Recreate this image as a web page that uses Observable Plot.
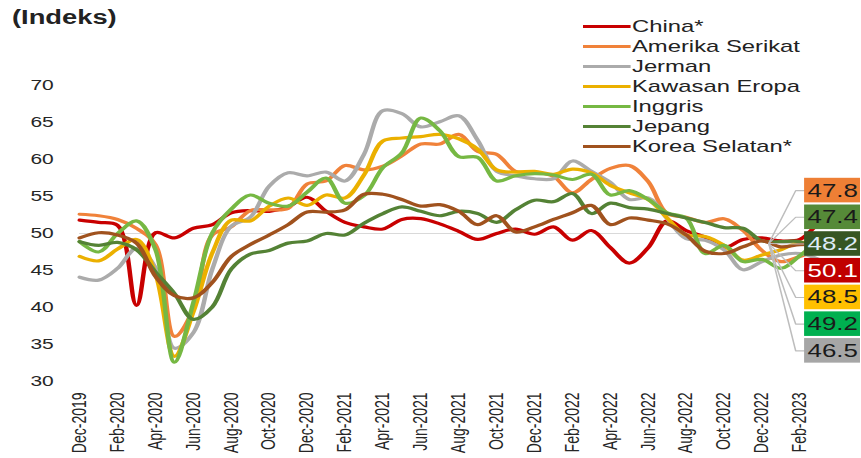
<!DOCTYPE html>
<html>
<head>
<meta charset="utf-8">
<script src="https://cdn.jsdelivr.net/npm/d3@7"></script>
<script src="https://cdn.jsdelivr.net/npm/@observablehq/plot@0.6"></script>
<style>
  html, body { margin: 0; padding: 0; background: #fff; overflow: hidden; }
  #wrap { position: relative; width: 861px; height: 458px; font-family: "Liberation Sans", Arial, sans-serif; color: #222; }
  #title { position: absolute; left: 12px; top: 4px; font-weight: bold; font-size: 19.5px; line-height: 26px; transform: scaleX(1.4); transform-origin: left top; white-space: nowrap; }
  #legend { position: absolute; left: 583px; top: 17px; transform: scaleX(1.4); transform-origin: left top; }
  .item { height: 20px; line-height: 20px; font-size: 17px; white-space: nowrap; }
  .sw { display: inline-block; width: 33.6px; height: 3px; vertical-align: middle; margin-right: 1.4px; position: relative; top: -1px; }
  #chart { position: absolute; left: 0; top: 0; }
</style>
</head>
<body>
<div id="wrap">
  <div id="chart"></div>
  <div id="title">(Indeks)</div>
  <div id="legend"></div>
</div>
<script>
// ---- data (monthly points, first point sits at the "Dec-2019" tick) ----
const tickLabels = ["Dec-2019","Feb-2020","Apr-2020","Jun-2020","Aug-2020","Oct-2020","Dec-2020","Feb-2021","Apr-2021","Jun-2021","Aug-2021","Oct-2021","Dec-2021","Feb-2022","Apr-2022","Jun-2022","Aug-2022","Oct-2022","Dec-2022","Feb-2023"];
const yTicks = [30, 35, 40, 45, 50, 55, 60, 65, 70];

const seriesNames = ["China*", "Amerika Serikat", "Jerman", "Kawasan Eropa", "Inggris", "Jepang", "Korea Selatan*"];
const seriesColors = ["#C80000", "#F0823A", "#ABABAB", "#EBB000", "#76B843", "#548235", "#A0521E"];

const china   = [51.8,51.5,51.1,40.3,50.1,49.4,50.7,51.2,52.8,53.1,53.0,53.6,54.9,53.0,51.5,50.9,50.6,51.9,52.0,51.3,50.3,49.2,50.0,50.6,49.9,50.9,49.1,50.4,48.1,46.0,48.1,51.7,50.4,49.5,48.1,49.2,49.4,49.0,49.2,51.6];
const amerika = [52.6,52.4,51.9,50.7,48.5,36.1,39.8,49.8,50.9,53.1,53.2,53.4,56.7,57.1,59.2,58.6,59.1,60.5,62.1,62.1,63.4,61.1,60.7,58.4,58.3,57.7,55.5,57.3,58.8,59.2,57.0,52.7,52.2,51.5,52.0,50.4,47.7,46.2,46.9,47.8];
const jerman  = [44.1,43.7,45.3,48.0,45.4,34.5,36.6,45.2,51.0,52.2,56.4,58.2,57.8,58.3,57.1,60.7,66.6,66.2,64.4,65.1,65.9,62.6,58.4,57.8,57.4,57.4,59.8,58.4,56.9,54.6,54.8,52.0,49.3,49.1,47.8,45.1,46.2,47.1,47.3,46.5];
const eropa   = [46.9,46.3,47.9,49.2,44.5,33.4,39.4,47.4,51.8,51.7,53.7,54.8,53.8,55.2,54.8,57.9,62.5,62.9,63.1,63.4,62.8,61.4,58.6,58.3,58.4,58.0,58.7,58.2,56.5,55.5,54.6,52.1,49.8,49.6,48.4,46.4,47.1,47.8,48.8,48.5];
const inggris = [48.9,47.5,50.0,51.7,47.8,32.6,40.7,50.1,53.3,55.2,54.1,53.7,55.6,57.5,54.1,55.1,58.9,60.9,65.6,63.9,60.4,60.3,57.1,57.8,58.1,57.9,57.3,58.0,55.2,55.8,54.6,52.8,52.1,47.3,48.4,46.2,46.5,45.3,47.0,49.2];
const jepang  = [48.9,48.4,48.8,47.8,44.8,41.9,38.4,40.1,45.2,47.2,47.7,48.7,49.0,50.0,49.8,51.4,52.7,53.6,53.0,52.4,53.0,52.7,51.5,53.2,54.5,54.3,55.4,52.7,54.1,53.5,53.3,52.7,52.1,51.5,50.8,50.7,49.0,48.9,48.9,47.4];
const korea   = [49.4,50.1,49.8,48.7,44.2,41.6,41.3,43.4,46.9,48.5,49.8,51.2,52.9,52.9,53.2,55.3,55.3,54.6,53.7,53.9,53.0,51.2,52.4,50.2,50.9,51.9,52.8,53.8,51.2,52.1,51.8,51.3,49.8,47.6,47.3,48.2,49.0,48.2,48.5,48.5];

const boxLabels     = ["47.8", "47.4", "48.2", "50.1", "48.5", "49.2", "46.5"];
const boxFills      = ["#EE7F35", "#568A38", "#375623", "#C00000", "#FFC000", "#00B050", "#A6A6A6"];
const boxTextColors = ["#1a1a1a", "#1a1a1a", "#DDEBF7", "#FFFFFF", "#1a1a1a", "#1a1a1a", "#1a1a1a"];

// ---- tables built from the arrays ----
const seriesValues = [china, amerika, jerman, eropa, inggris, jepang, korea];
const rows = seriesNames.flatMap((name, k) => seriesValues[k].map((v, i) => ({name, i, v})));
const tickIdx = tickLabels.map((_, j) => j * 2);

// layout of the right-hand value boxes (in scale units)
const boxX1 = 38.26, boxX2 = 41.21, slotTop = 55.8, slotStep = 3.61, boxHalf = 1.66;
const elbowX = 37.78, originX = 36.36, originY = 48.65;
const boxes = boxLabels.map((label, k) => ({
  label, fill: boxFills[k], color: boxTextColors[k],
  yc: slotTop - k * slotStep
}));
const leaders = boxes.flatMap((b, k) => [
  {k, x: originX, y: originY},
  {k, x: elbowX, y: b.yc},
  {k, x: boxX1, y: b.yc}
]);

const SX = 1.4;
const W = 861 / SX;

const svg = Plot.plot({
  width: W,
  height: 458,
  marginLeft: 79 / SX,
  marginRight: W - 860 / SX,
  marginTop: 85,
  marginBottom: 77,
  style: {fontFamily: "'Liberation Sans', Arial, sans-serif", color: "#262626", background: "transparent"},
  x: {domain: [0, 41.21], axis: null},
  y: {domain: [30, 70], axis: null},
  color: {domain: seriesNames, range: seriesColors},
  marks: [
    Plot.ruleY([50], {stroke: "#D9D9D9", strokeWidth: 1.2}),
    Plot.axisY({ticks: yTicks, tickSize: 0, tickPadding: 18.5, fontSize: 15, anchor: "left"}),
    Plot.axisX({ticks: tickIdx, tickFormat: d => tickLabels[d / 2], tickRotate: -90, tickSize: 0, tickPadding: 11, fontSize: 14, anchor: "bottom"}),
    Plot.line(rows, {x: "i", y: "v", z: "name", stroke: "name", strokeWidth: 3.2, curve: "catmull-rom", strokeLinejoin: "round", strokeLinecap: "round"}),
    Plot.line(leaders, {x: "x", y: "y", z: "k", stroke: "#BDBDBD", strokeWidth: 1.1}),
    Plot.rect(boxes, {x1: () => boxX1, x2: () => boxX2, y1: d => d.yc - boxHalf, y2: d => d.yc + boxHalf, fill: "fill"}),
    Plot.text(boxes, {x: () => (boxX1 + boxX2) / 2, y: "yc", text: "label", fill: "color", fontSize: 18.5})
  ]
});
svg.setAttribute("width", 861);
svg.setAttribute("height", 458);
svg.setAttribute("preserveAspectRatio", "none");
svg.style.width = "861px";
svg.style.height = "458px";
svg.style.maxWidth = "none";
document.getElementById("chart").appendChild(svg);

// legend
const legend = document.getElementById("legend");
seriesNames.forEach((name, k) => {
  const item = document.createElement("div");
  item.className = "item";
  const sw = document.createElement("span");
  sw.className = "sw";
  sw.style.background = seriesColors[k];
  item.appendChild(sw);
  item.appendChild(document.createTextNode(name));
  legend.appendChild(item);
});
</script>
</body>
</html>
